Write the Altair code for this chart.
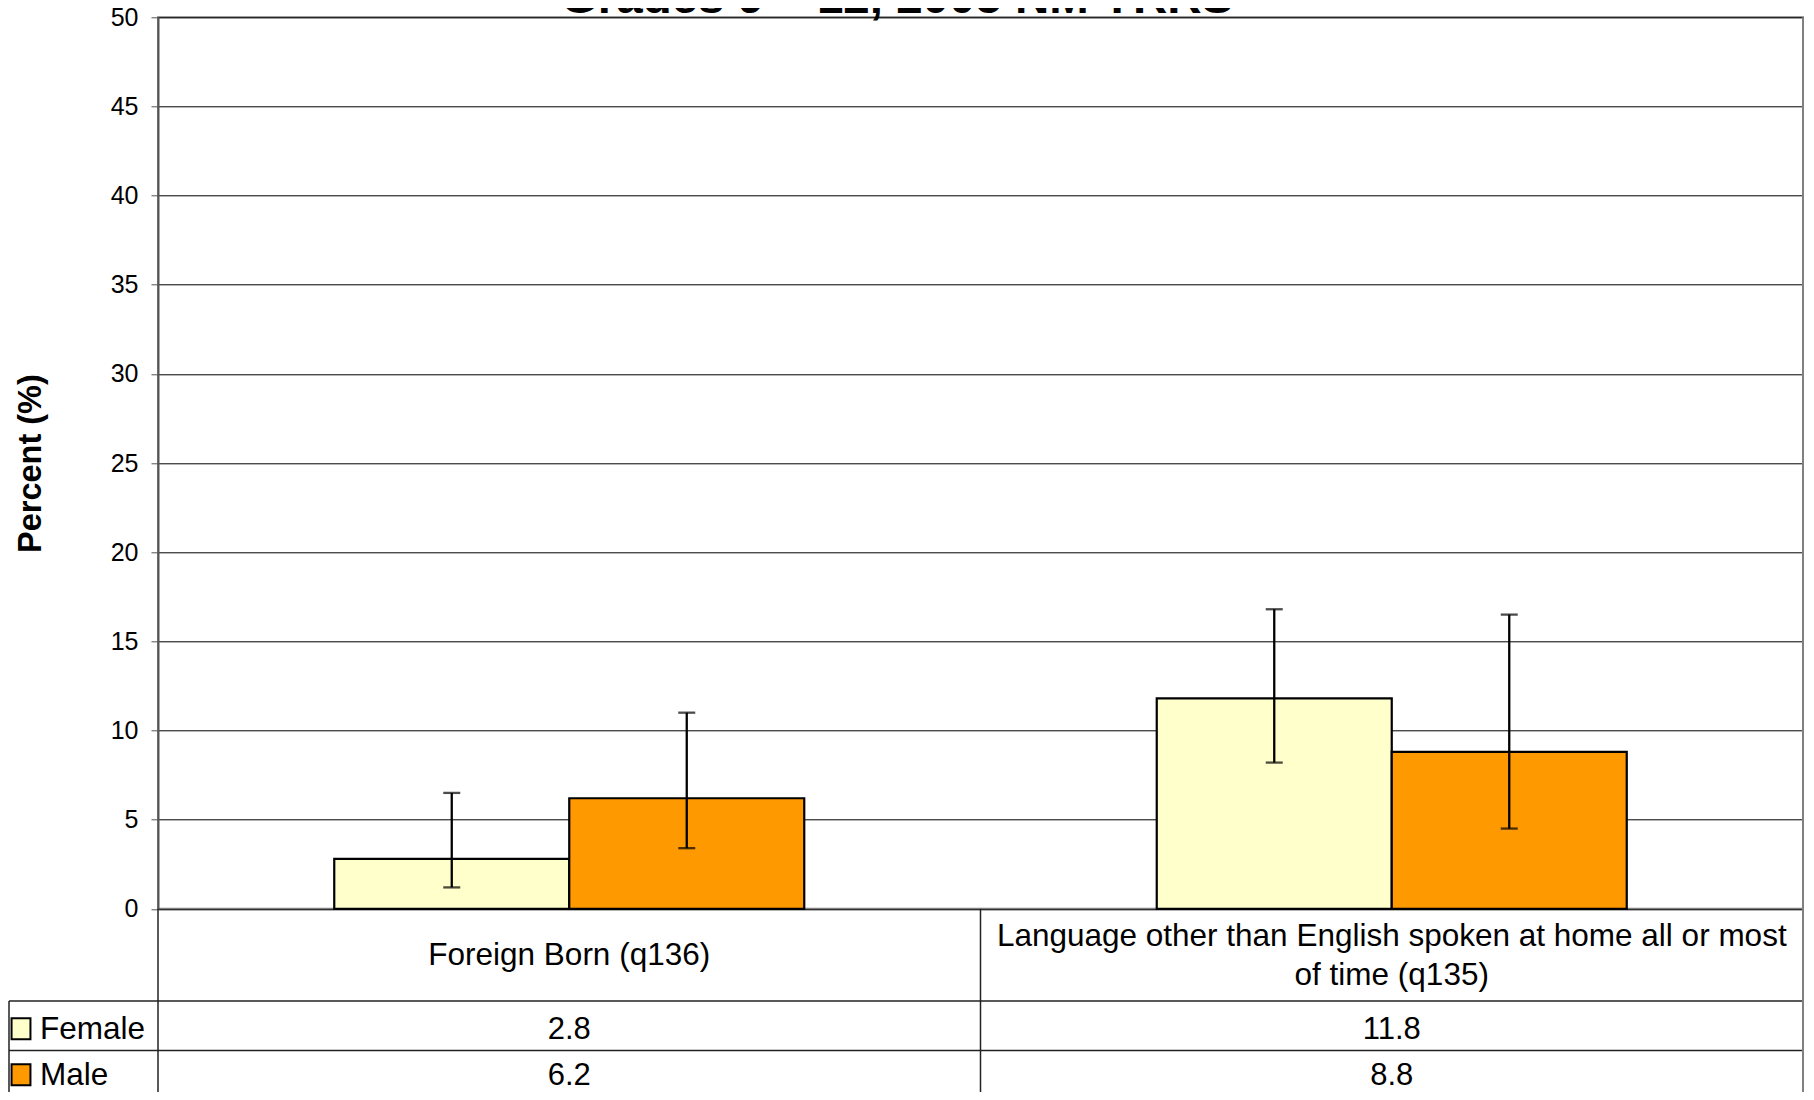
import altair as alt
import pandas as pd

# ---------------- data ----------------
categories = [
    "Foreign Born (q136)",
    "Language other than English spoken at home all or most of time (q135)",
]
category_labels = [
    "Foreign Born (q136)",
    "Language other than English spoken at home all or most\nof time (q135)",
]
series = ["Female", "Male"]
series_colors = ["#FFFFCC", "#FF9900"]
female = [2.8, 11.8]
male = [6.2, 8.8]
female_low = [1.2, 8.2]
female_high = [6.5, 16.8]
male_low = [3.4, 4.5]
male_high = [11.0, 16.5]
y_ticks = [0, 5, 10, 15, 20, 25, 30, 35, 40, 45, 50]
title_text = "Grades 9 \u2013 12, 2005 NM YRRS"
y_title = "Percent (%)"

rows = []
for i, c in enumerate(categories):
    rows.append({"cat": c, "sex": "Female", "value": female[i], "lo": female_low[i], "hi": female_high[i]})
    rows.append({"cat": c, "sex": "Male", "value": male[i], "lo": male_low[i], "hi": male_high[i]})
df = pd.DataFrame(rows)
cat_df = pd.DataFrame({"cat": categories, "label": category_labels})
cat_df["nlines"] = cat_df["label"].str.count("\n") + 1
leg_df = pd.DataFrame({"sex": series})
one = pd.DataFrame({"k": [0]})

# ---------------- layout (pixels) ----------------
FONT = "Liberation Sans, Arial, sans-serif"
W, H = 1645, 891.5
PAD_L, PAD_T, PAD_R = 150, 9.3, 3
PAD_B = 1084 - PAD_T - H
HEADER_BOTTOM = 983.7
ROW1_BOTTOM = 1033.2
TABLE_BOTTOM = H + PAD_B
ROW_CENTERS = [1012.5, 1058.5]
LABEL_CENTER = 939.0
LINE_H = 39
LINE_COLOR = "#222222"

x_enc = alt.X("cat:N", sort=categories, axis=None,
              scale=alt.Scale(paddingInner=0, paddingOuter=0))
xoff_enc = alt.XOffset("sex:N", sort=series,
                       scale=alt.Scale(paddingInner=0, paddingOuter=0.75))
color_enc = alt.Color("sex:N", scale=alt.Scale(domain=series, range=series_colors), legend=None)
y_scale = alt.Scale(domain=[0, 50], nice=False, zero=True)
y_axis = alt.Axis(values=y_ticks, grid=True, gridColor="black", gridWidth=1,
                  tickSize=7, tickColor="#555555", tickWidth=1,
                  domainColor="#555555", domainWidth=2,
                  labelFontSize=25, labelFont=FONT, labelColor="black", labelPadding=13,
                  title=y_title, titleFont=FONT, titleFontSize=32.5, titleFontWeight="bold",
                  titleColor="black", titlePadding=63)

base = alt.Chart(df)

bars = base.mark_bar(stroke="black", strokeWidth=2.2).encode(
    x=x_enc, xOffset=xoff_enc,
    y=alt.Y("value:Q", scale=y_scale, axis=y_axis),
    color=color_enc,
)

err = base.mark_rule(color="black", strokeWidth=2.3).encode(
    x=x_enc, xOffset=xoff_enc,
    y=alt.Y("lo:Q", scale=y_scale, axis=y_axis), y2="hi:Q",
)
cap_hi = base.mark_tick(color="black", thickness=2.3, size=17, orient="horizontal").encode(
    x=x_enc, xOffset=xoff_enc, y=alt.Y("hi:Q", scale=y_scale, axis=y_axis),
)
cap_lo = base.mark_tick(color="black", thickness=2.3, size=17, orient="horizontal").encode(
    x=x_enc, xOffset=xoff_enc, y=alt.Y("lo:Q", scale=y_scale, axis=y_axis),
)

# ---------------- data table below the plot ----------------
def hrule(y, x1, x2, color=LINE_COLOR, w=1.5):
    return alt.Chart(one).mark_rule(color=color, strokeWidth=w).encode(
        x=alt.value(x1), x2=alt.value(x2), y=alt.value(y), y2=alt.value(y))

def vrule(x, y1, y2, color=LINE_COLOR, w=1.5):
    return alt.Chart(one).mark_rule(color=color, strokeWidth=w).encode(
        x=alt.value(x), x2=alt.value(x), y=alt.value(y1), y2=alt.value(y2))

cat_lines = alt.Chart(cat_df).mark_rule(color=LINE_COLOR, strokeWidth=1.5).encode(
    x=alt.X("cat:N", sort=categories, axis=None, bandPosition=0,
            scale=alt.Scale(paddingInner=0, paddingOuter=0)),
    y=alt.value(H), y2=alt.value(TABLE_BOTTOM),
)

cat_text_layers = []
for n in sorted(cat_df["nlines"].unique()):
    cat_text_layers.append(
        alt.Chart(cat_df).transform_filter(alt.datum.nlines == int(n)).mark_text(
            font=FONT, fontSize=31.5, color="black", baseline="middle", align="center",
            lineBreak="\n", lineHeight=LINE_H,
        ).encode(x=x_enc, y=alt.value(LABEL_CENTER - (int(n) - 1) * LINE_H / 2), text="label:N")
    )

value_layers = []
legend_layers = []
for i, s in enumerate(series):
    value_layers.append(
        base.transform_filter(alt.datum.sex == s).mark_text(
            font=FONT, fontSize=31, color="black", baseline="middle", align="center"
        ).encode(x=x_enc, y=alt.value(ROW_CENTERS[i]), text=alt.Text("value:Q", format=".1f"))
    )
    sub = alt.Chart(leg_df).transform_filter(alt.datum.sex == s)
    legend_layers.append(
        sub.mark_point(shape="M-0.9,-1L0.9,-1L0.9,1L-0.9,1Z", size=441, filled=True,
                       stroke="black", strokeWidth=2, opacity=1).encode(
            x=alt.value(-137), y=alt.value(ROW_CENTERS[i] - 1), fill=color_enc)
    )
    legend_layers.append(
        sub.mark_text(font=FONT, fontSize=31.5, color="black", baseline="middle", align="left").encode(
            x=alt.value(-118), y=alt.value(ROW_CENTERS[i]), text="sex:N")
    )

title = alt.Chart(one).mark_text(
    text=title_text, font=FONT, fontSize=47.5, fontWeight="bold", color="black",
    align="center", baseline="alphabetic",
).encode(x=alt.value(739), y=alt.value(-4.5))

table = [
    hrule(HEADER_BOTTOM, -149, W),
    hrule(ROW1_BOTTOM, -149, W),
    vrule(-149, HEADER_BOTTOM, TABLE_BOTTOM),
    vrule(W, 0, TABLE_BOTTOM, color="#808080", w=2),
    cat_lines,
]

chart = alt.layer(
    bars, err, cap_hi, cap_lo, *table, *cat_text_layers, *value_layers, *legend_layers, title
).properties(
    width=W, height=H,
    autosize=alt.AutoSizeParams(type="none"),
    padding={"left": PAD_L, "top": PAD_T, "right": PAD_R, "bottom": PAD_B},
    background="white",
).configure_view(stroke="#808080", strokeWidth=2)

chart.save("out.html", embed_options={"renderer": "svg", "actions": False})
